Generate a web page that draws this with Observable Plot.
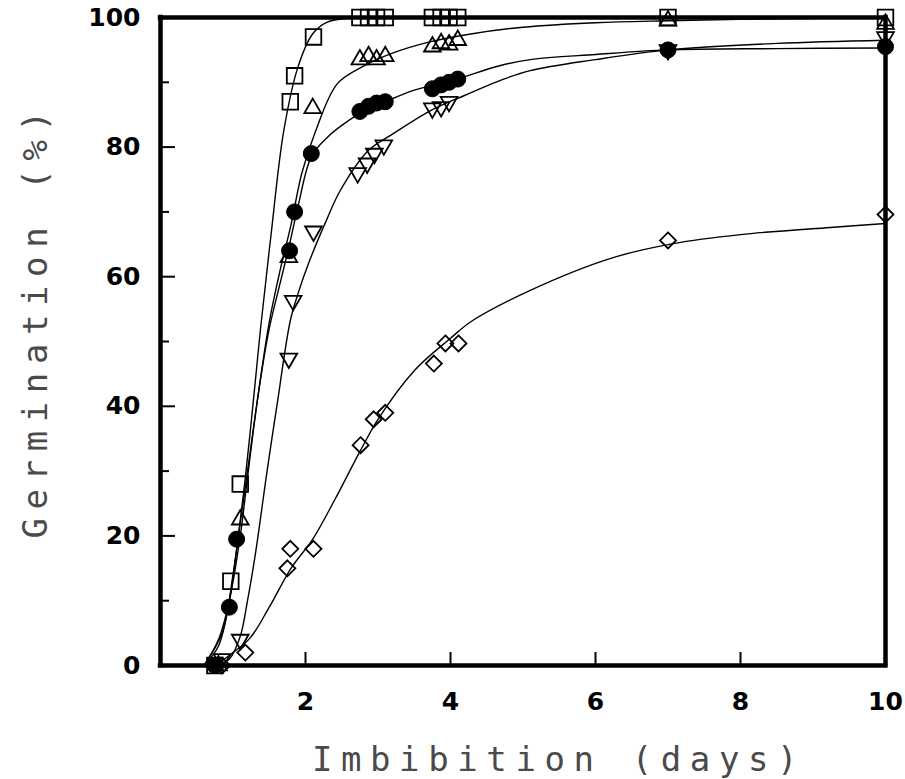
<!DOCTYPE html>
<html>
<head>
<meta charset="utf-8">
<script src="https://cdn.jsdelivr.net/npm/d3@7"></script>
<script src="https://cdn.jsdelivr.net/npm/@observablehq/plot@0.6"></script>
<style>
  html, body { margin: 0; padding: 0; background: #fff; }
  #chart { width: 905px; height: 779px; }
</style>
</head>
<body>
<div id="chart"></div>
<script>
// ---- Data ----
// Open squares
const sqX = [0.75, 0.97, 1.1, 1.79, 1.85, 2.11, 2.75, 2.87, 2.98, 3.1, 3.75, 3.87, 3.98, 4.1, 7, 10];
const sqY = [0, 13, 28, 87, 91, 97, 100, 100, 100, 100, 100, 100, 100, 100, 100, 100];
// Open triangles (up)
const triX = [0.8, 1.1, 1.77, 2.1, 2.75, 2.87, 2.98, 3.1, 3.75, 3.87, 3.98, 4.1, 7, 10];
const triY = [0, 22.5, 63, 86, 93.5, 94, 93.5, 94, 95.5, 96, 95.8, 96.5, 99.5, 99];
// Filled circles
const cirX = [0.75, 0.95, 1.05, 1.78, 1.85, 2.08, 2.75, 2.87, 2.98, 3.1, 3.75, 3.87, 3.98, 4.1, 7, 10];
const cirY = [0, 9, 19.5, 64, 70, 79, 85.5, 86.3, 86.8, 87, 89, 89.6, 90, 90.5, 95, 95.5];
// Open inverted triangles
const invX = [0.85, 1.1, 1.77, 1.83, 2.11, 2.72, 2.85, 2.95, 3.08, 3.75, 3.87, 3.98, 7, 10];
const invY = [1, 4, 47.4, 56.3, 67, 76, 77.5, 79, 80.3, 86, 86.2, 87, 95, 97];
// Open diamonds
const diaX = [0.85, 1.17, 1.75, 1.79, 2.11, 2.76, 2.94, 3.1, 3.77, 3.93, 4.11, 7, 10];
const diaY = [0, 2, 15, 18, 18, 34, 38, 39, 46.6, 49.7, 49.7, 65.6, 69.6];

// Fitted curves
const sqCurveX = [0.6, 0.8, 0.95, 1.05, 1.17, 1.3, 1.38, 1.52, 1.7, 1.9, 2.1, 2.3, 2.6, 3, 10];
const sqCurveY = [0, 3, 10, 18, 29, 43, 52, 66, 82.5, 92.5, 97.5, 99.3, 99.9, 100, 100];
const triCurveX = [0.6, 0.85, 1.0, 1.1, 1.2, 1.35, 1.5, 1.65, 1.8, 1.95, 2.14, 2.44, 2.8, 3.2, 3.7, 4.3, 5, 6, 7, 8.5, 10];
const triCurveY = [0, 5, 14, 22, 30, 42, 53, 61, 68, 76, 82.5, 89.8, 92.5, 94.5, 96.2, 97.5, 98.5, 99.2, 99.5, 99.8, 100];
const cirCurveX = [0.6, 0.8, 0.95, 1.1, 1.2, 1.35, 1.5, 1.65, 1.78, 1.9, 2.08, 2.3, 2.52, 2.8, 3.1, 3.5, 4.0, 4.69, 5.1, 6, 7, 8.5, 10];
const cirCurveY = [0, 4, 10, 20, 29, 42, 52, 59, 65, 71, 78.5, 81.5, 83.5, 85.5, 87, 88.8, 90.2, 92.6, 93.5, 94.3, 95, 95.2, 95.3];
const invCurveX = [0.75, 0.95, 1.1, 1.2, 1.31, 1.47, 1.61, 1.79, 1.9, 2.04, 2.3, 2.48, 2.87, 3.2, 3.72, 4.2, 4.69, 5.1, 6, 7, 8.5, 10];
const invCurveY = [0, 1, 4.5, 10, 17.3, 30, 40.4, 53.2, 57.5, 62, 69, 73.3, 79.5, 82, 85.6, 88, 90.3, 91.8, 93.5, 95, 96, 96.5];
const diaCurveX = [0.55, 0.8, 1.0, 1.24, 1.5, 1.8, 2.1, 2.4, 2.75, 3.0, 3.5, 4.0, 4.3, 5.1, 6.2, 7.07, 8, 9.24, 10];
const diaCurveY = [0, 0.5, 2, 4.3, 9, 15, 19.5, 25.5, 33, 38, 45.5, 50.5, 53.2, 57.9, 62.8, 65.1, 66.5, 67.6, 68.2];

// Axes
const xTicks = [2, 4, 6, 8, 10];
const xTickMarks = [2, 4, 6, 8];
const yTicks = [0, 20, 40, 60, 80, 100];
const yMinor = [10, 30, 50, 70, 90];
const xLabel = "Imbibition (days)";
const yLabel = "Germination (%)";

// ---- helpers ----
const pts = (xs, ys) => xs.map((x, i) => ({x, y: ys[i]}));
const triUp = {
  draw(ctx, size) {
    const y = -Math.sqrt(size / (Math.sqrt(3) * 3));
    ctx.moveTo(0, y * 2);
    ctx.lineTo(-Math.sqrt(3) * y, -y);
    ctx.lineTo(Math.sqrt(3) * y, -y);
    ctx.closePath();
  }
};
const triDown = {
  draw(ctx, size) {
    const y = -Math.sqrt(size / (Math.sqrt(3) * 3));
    ctx.moveTo(0, -y * 2);
    ctx.lineTo(-Math.sqrt(3) * y, y);
    ctx.lineTo(Math.sqrt(3) * y, y);
    ctx.closePath();
  }
};

const W = 905, H = 779, mL = 160, mR = 20, mT = 17, mB = 114;
const plotW = W - mL - mR;
const plotH = H - mT - mB;

const lineOpts = {x: "x", y: "y", stroke: "#000", strokeWidth: 1.4, curve: "catmull-rom"};
const tickFont = {fontSize: 25, fontWeight: "bold", fontFamily: "DejaVu Sans", fill: "#000"};
const titleFont = {fontSize: 34, fontFamily: "DejaVu Sans Mono", fill: "#4a4a4a", textAnchor: "middle", lineAnchor: "middle"};

const chart = Plot.plot({
  width: W,
  height: H,
  marginLeft: mL,
  marginRight: mR,
  marginTop: mT,
  marginBottom: mB,
  x: {domain: [0, 10], axis: null},
  y: {domain: [0, 100], axis: null},
  marks: [
    // curves
    Plot.line(pts(sqCurveX, sqCurveY), lineOpts),
    Plot.line(pts(triCurveX, triCurveY), lineOpts),
    Plot.line(pts(cirCurveX, cirCurveY), lineOpts),
    Plot.line(pts(invCurveX, invCurveY), lineOpts),
    Plot.line(pts(diaCurveX, diaCurveY), lineOpts),
    // markers
    Plot.dot(pts(diaX, diaY), {x: "x", y: "y", symbol: "diamond2", r: 7.2, fill: "none", stroke: "#000", strokeWidth: 1.8}),
    Plot.dot(pts(invX, invY), {x: "x", y: "y", symbol: triDown, r: 6.2, fill: "none", stroke: "#000", strokeWidth: 1.8}),
    Plot.dot(pts(triX, triY), {x: "x", y: "y", symbol: triUp, r: 6.2, fill: "none", stroke: "#000", strokeWidth: 1.8}),
    Plot.dot(pts(sqX, sqY), {x: "x", y: "y", symbol: "square", r: 8.8, fill: "none", stroke: "#000", strokeWidth: 1.8}),
    Plot.dot(pts(cirX, cirY), {x: "x", y: "y", symbol: "circle", r: 8, fill: "#000", stroke: "#000", strokeWidth: 1}),
    // inner ticks
    Plot.tickY(yTicks, {y: d => d, insetRight: plotW - 15, stroke: "#000", strokeWidth: 2}),
    Plot.tickY(yMinor, {y: d => d, insetRight: plotW - 9, stroke: "#000", strokeWidth: 2}),
    Plot.tickX(xTickMarks, {x: d => d, insetTop: plotH - 13, stroke: "#000", strokeWidth: 2}),
    // frame
    Plot.ruleX([0, 10], {stroke: "#000", strokeWidth: 4.5, strokeLinecap: "square"}),
    Plot.ruleY([0, 100], {stroke: "#000", strokeWidth: 4.5, strokeLinecap: "square"}),
    // tick labels
    Plot.axisX(xTicks, {tickSize: 0, tickPadding: 27, label: null, ...tickFont}),
    Plot.axisY(yTicks, {tickSize: 0, tickPadding: 20, label: null, ...tickFont}),
    // titles
    Plot.text([xLabel], {frameAnchor: "bottom", text: d => d, dx: 36, dy: 95, ...titleFont}),
    Plot.text([yLabel], {frameAnchor: "left", text: d => d, dx: -124, dy: -21, rotate: -90, ...titleFont})
  ]
});

chart.querySelectorAll("text").forEach(t => {
  if (t.textContent === xLabel || t.textContent === yLabel) {
    t.style.letterSpacing = "8.6px";
  }
});
document.getElementById("chart").appendChild(chart);
</script>
</body>
</html>
